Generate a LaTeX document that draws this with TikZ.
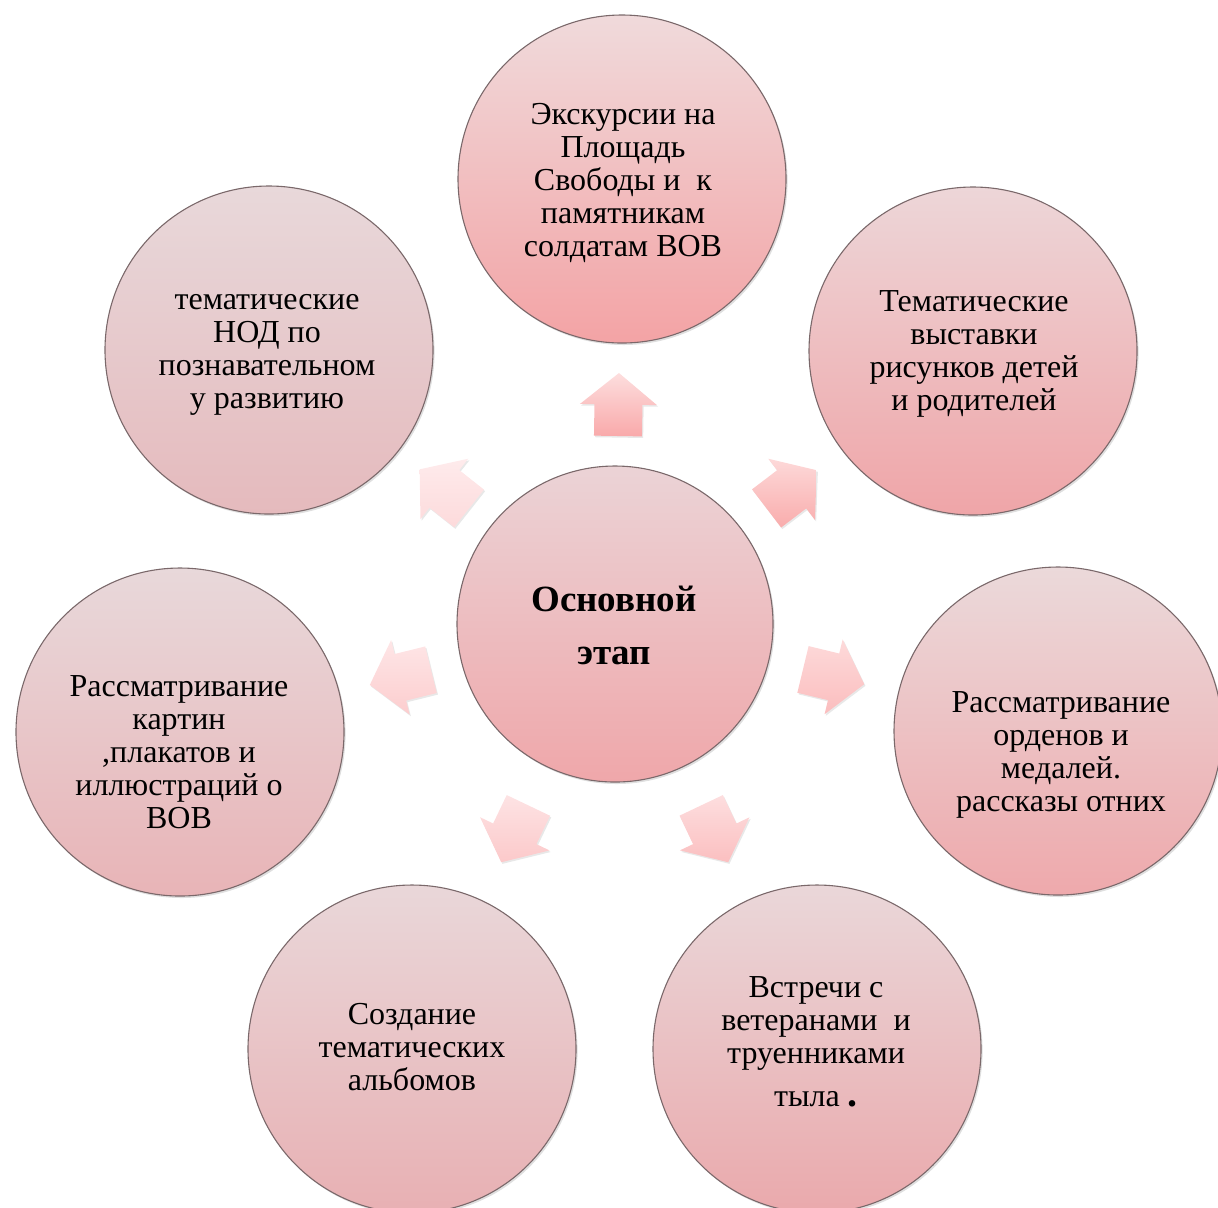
\documentclass[tikz,border=0pt]{standalone}
\usepackage{fontspec}
\setmainfont{Liberation Serif}
\usetikzlibrary{calc,shadows}
\definecolor{bordercol}{HTML}{7A686A}
\tikzset{
  bubble/.style={circle, draw=bordercol, line width=0.55pt, inner sep=0pt,
    minimum size=164pt,
    drop shadow={shadow xshift=0.8pt, shadow yshift=-1pt, opacity=0.25}},
  hubbubble/.style={bubble, minimum size=158pt},
  txt/.style={align=center, inner sep=0pt, font=\fontsize{16}{16.5}\selectfont},
  hubtxt/.style={align=center, inner sep=0pt, font=\fontsize{18.5}{26.5}\selectfont\bfseries},
  arrowshape/.style={drop shadow={shadow xshift=0.6pt, shadow yshift=-0.8pt, opacity=0.18}},
}
\newcommand\blockarrow[4]{%
  \path ($(#1)!0.5!(#2)$) coordinate (am0)
        ($(am0)!1.5pt!180:(#2)$) coordinate (am)
        ($(am)!15.75pt!(#2)$) coordinate (at)
        ($(am)!15.75pt!180:(#2)$) coordinate (ab);
  \shade[arrowshape, top color=#3, bottom color=#4]
    ($(ab)!12pt!90:(#2)$) -- ($(am)!12pt!90:(#2)$) -- ($(am)!19.25pt!90:(#2)$) -- (at)
    -- ($(am)!19.25pt!-90:(#2)$) -- ($(am)!12pt!-90:(#2)$) -- ($(ab)!12pt!-90:(#2)$) -- cycle;
}
\begin{document}
\begin{tikzpicture}[x=0.5pt, y=-0.5pt]
\useasboundingbox (0,0) rectangle (1218,1207);

% circles
\node[hubbubble, top color={rgb,255:red,235;green,211;blue,214}, bottom color={rgb,255:red,239;green,167;blue,170}] (hub) at (615,624) {};
\node[bubble, top color={rgb,255:red,240;green,218;blue,219}, bottom color={rgb,255:red,243;green,163;blue,165}] (ctop) at (622,179) {};
\node[bubble, top color={rgb,255:red,237;green,214;blue,216}, bottom color={rgb,255:red,239;green,165;blue,168}] (ctr) at (973,351) {};
\node[bubble, top color={rgb,255:red,235;green,217;blue,218}, bottom color={rgb,255:red,238;green,169;blue,172}] (cr) at (1058,731) {};
\node[bubble, top color={rgb,255:red,234;green,215;blue,217}, bottom color={rgb,255:red,234;green,169;blue,172}] (cbr) at (817,1049) {};
\node[bubble, top color={rgb,255:red,233;green,215;blue,217}, bottom color={rgb,255:red,232;green,176;blue,179}] (cbl) at (412,1049) {};
\node[bubble, top color={rgb,255:red,232;green,216;blue,218}, bottom color={rgb,255:red,232;green,180;blue,183}] (cl) at (180,732) {};
\node[bubble, top color={rgb,255:red,232;green,216;blue,218}, bottom color={rgb,255:red,229;green,186;blue,189}] (ctl) at (269,350) {};

% arrows
\blockarrow{hub}{ctop}{{rgb,255:red,253;green,222;blue,222}}{{rgb,255:red,249;green,169;blue,170}}
\blockarrow{hub}{ctr}{{rgb,255:red,253;green,217;blue,217}}{{rgb,255:red,249;green,172;blue,172}}
\blockarrow{hub}{cr}{{rgb,255:red,253;green,218;blue,218}}{{rgb,255:red,251;green,189;blue,190}}
\blockarrow{hub}{cbr}{{rgb,255:red,253;green,222;blue,223}}{{rgb,255:red,251;green,191;blue,192}}
\blockarrow{hub}{cbl}{{rgb,255:red,253;green,227;blue,228}}{{rgb,255:red,252;green,201;blue,202}}
\blockarrow{hub}{cl}{{rgb,255:red,254;green,230;blue,231}}{{rgb,255:red,252;green,205;blue,206}}
\blockarrow{hub}{ctl}{{rgb,255:red,254;green,235;blue,236}}{{rgb,255:red,253;green,218;blue,219}}

% texts
\node[hubtxt] (thub) at (614,625) {Основной\\этап};
\node[txt] (ttop) at (623,183) {Экскурсии на\\Площадь\\Свободы и~~к\\памятникам\\солдатам ВОВ};
\node[txt] (ttr) at (974,354) {Тематические\\выставки\\рисунков детей\\и родителей};
\node[txt] (tr) at (1061,755) {Рассматривание\\орденов и\\медалей.\\рассказы отних};
\node[txt] (tbr) at (816,1042) {Встречи с\\ветеранами~~и\\труенниками\\[5pt]тыла {\fontsize{20}{20}\selectfont\bfseries .}};
\node[txt] (tbl) at (412,1047) {Создание\\тематических\\альбомов};
\node[txt] (tl) at (179,752) {Рассматривание\\картин\\,плакатов и\\иллюстраций о\\ВОВ};
\node[txt] (ttl) at (267,355) {тематические\\НОД по\\познавательном\\у развитию};
\end{tikzpicture}
\end{document}
